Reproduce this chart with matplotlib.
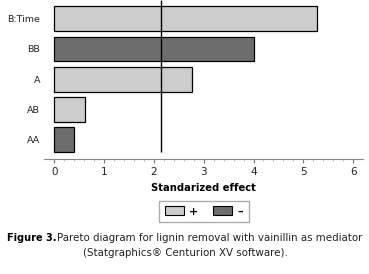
import matplotlib.pyplot as plt
from matplotlib.patches import Patch

# effects, top to bottom as in the chart
effects = ['B:Time', 'BB', 'A', 'AB', 'AA']
values = [5.28, 4.02, 2.76, 0.61, 0.40]
signs = ['+', '-', '+', '+', '-']
critical = 2.15

light = '#cdcdcd'
dark = '#6d6d6d'

fig = plt.figure(figsize=(3.69, 2.74), dpi=100)
ax = fig.add_axes([0.120, 0.420, 0.864, 0.580])

ypos = list(range(len(effects)))[::-1]
colors = [light if s == '+' else dark for s in signs]
ax.barh(ypos, values, height=0.82, color=colors, edgecolor='black', linewidth=0.9)
ax.vlines(critical, -0.4, 4.62, color='black', linewidth=1.0)

ax.set_xlim(-0.2, 6.2)
ax.set_ylim(-0.635, 4.62)
ax.set_yticks(ypos)
ax.set_yticklabels(effects, fontsize=6.8, color='#222222')
ax.tick_params(axis='y', length=0, pad=3)
ax.set_xticks(range(7))
ax.set_xticks([i * 0.2 for i in range(31)], minor=True)
ax.tick_params(axis='x', which='major', length=3, direction='out', color='#777777',
               labelsize=7.5, labelcolor='#222222', pad=3)
ax.tick_params(axis='x', which='minor', length=1.5, direction='out', color='#aaaaaa')
for s in ['top', 'right', 'left']:
    ax.spines[s].set_visible(False)
ax.spines['bottom'].set_color('#888888')
ax.spines['bottom'].set_linewidth(0.8)
ax.set_xlabel('Standarized effect', fontsize=7.2, fontweight='bold', labelpad=4)

handles = [Patch(facecolor=light, edgecolor='black', linewidth=0.8),
           Patch(facecolor=dark, edgecolor='black', linewidth=0.8)]
leg = fig.legend(handles, ['+', '\u2013'], ncol=2, loc='center',
                 bbox_to_anchor=(204 / 369, 1 - 211.5 / 274),
                 prop={'size': 8, 'weight': 'bold'}, fancybox=False,
                 handlelength=1.7, handleheight=0.8, columnspacing=1.3,
                 handletextpad=0.5, borderpad=0.5)
leg.get_frame().set_edgecolor('#999999')
leg.get_frame().set_linewidth(1.0)

fig.text(7 / 369, 1 - 238 / 274, 'Figure 3.', fontsize=7, fontweight='bold', va='center')
fig.text(57 / 369, 1 - 238 / 274, 'Pareto diagram for lignin removal with vainillin as mediator',
         fontsize=7.35, va='center', color='#222222')
fig.text(185 / 369, 1 - 253 / 274, '(Statgraphics\u00ae Centurion XV software).',
         fontsize=7.35, va='center', ha='center', color='#222222')

fig.savefig('out.png', dpi=100)
